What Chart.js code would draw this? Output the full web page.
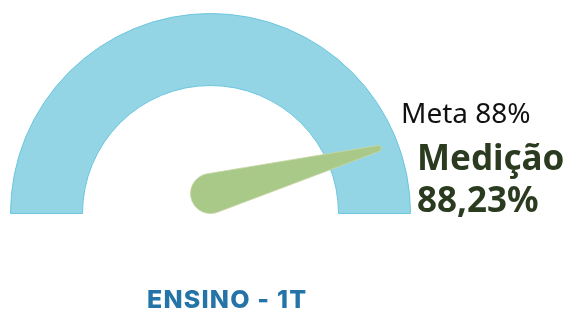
<!DOCTYPE html>
<html>
<head>
<meta charset="utf-8">
<script src="https://cdn.jsdelivr.net/npm/chart.js@4"></script>
<style>
  html, body { margin:0; padding:0; background:#fff; }
  #wrap { position:relative; width:571px; height:311px; overflow:hidden; }
  #c { position:absolute; left:0; top:0; }
  .lbl { position:absolute; white-space:nowrap; }
  #meta { left:401px; top:93px; font:400 28px "Noto Sans", "Open Sans", sans-serif; color:#111; }
  #med { left:417px; top:136px; font:700 35px/42px "Noto Sans", "Open Sans", sans-serif; color:#2b3b1f; }
  #title { left:147px; top:284px; font:800 25px "Inter", "Lato", sans-serif; color:#2574a8; letter-spacing:1.2px; }
</style>
</head>
<body>
<div id="wrap">
  <canvas id="c" width="571" height="311"></canvas>
  <div class="lbl" id="meta"></div>
  <div class="lbl" id="med"></div>
  <div class="lbl" id="title"></div>
</div>
<script>
// ---- data ----
const gaugeLabels = ['Escala'];
const gaugeValues = [100];
const medicaoValues = [88.23];
const metaValues = [88];
const chartTitle = 'ENSINO - 1T';

const fmt = v => v.toLocaleString('pt-BR', {minimumFractionDigits: 2, maximumFractionDigits: 2});
document.getElementById('meta').textContent = 'Meta ' + metaValues[0] + '%';
document.getElementById('med').innerHTML = 'Medição<br>' + fmt(medicaoValues[0]) + '%';
document.getElementById('title').textContent = chartTitle;

const needlePlugin = {
  id: 'needle',
  afterDatasetsDraw(chart) {
    const arc = chart.getDatasetMeta(0).data[0];
    if (!arc) return;
    const {x, y, startAngle, endAngle} = arc.getProps(['x','y','startAngle','endAngle'], true);
    const total = gaugeValues.reduce((a,b)=>a+b,0);
    const theta = startAngle + (endAngle - startAngle) * (medicaoValues[0] / total);
    const ctx = chart.ctx;
    const px = x, py = y - 20, r1 = 20;
    const tx = x + 180 * Math.cos(theta), ty = y + 180 * Math.sin(theta), r2 = 3;
    const d = Math.hypot(tx - px, ty - py);
    const phi = Math.atan2(ty - py, tx - px);
    const a = Math.acos((r1 - r2) / d);
    ctx.save();
    ctx.beginPath();
    ctx.arc(px, py, r1, phi + a, phi - a + 2 * Math.PI, false);
    ctx.lineTo(tx + r2 * Math.cos(phi - a), ty + r2 * Math.sin(phi - a));
    ctx.arc(tx, ty, r2, phi - a, phi + a, false);
    ctx.closePath();
    ctx.fillStyle = '#a8c988';
    ctx.fill();
    ctx.lineWidth = 0.8;
    ctx.strokeStyle = '#c9d7a6';
    ctx.stroke();
    ctx.restore();
  }
};

new Chart(document.getElementById('c'), {
  type: 'doughnut',
  data: {
    labels: gaugeLabels,
    datasets: [{
      data: gaugeValues,
      backgroundColor: '#93d5e4',
      borderColor: '#6cc6de',
      borderWidth: 1,
      hoverOffset: 0
    }]
  },
  options: {
    responsive: false,
    animation: false,
    rotation: -90,
    circumference: 180,
    cutout: '64%',
    layout: { padding: { left: 10, top: 13, right: 160, bottom: 97 } },
    plugins: { legend: { display: false }, tooltip: { enabled: false }, title: { display: false } }
  },
  plugins: [needlePlugin]
});
</script>
</body>
</html>
